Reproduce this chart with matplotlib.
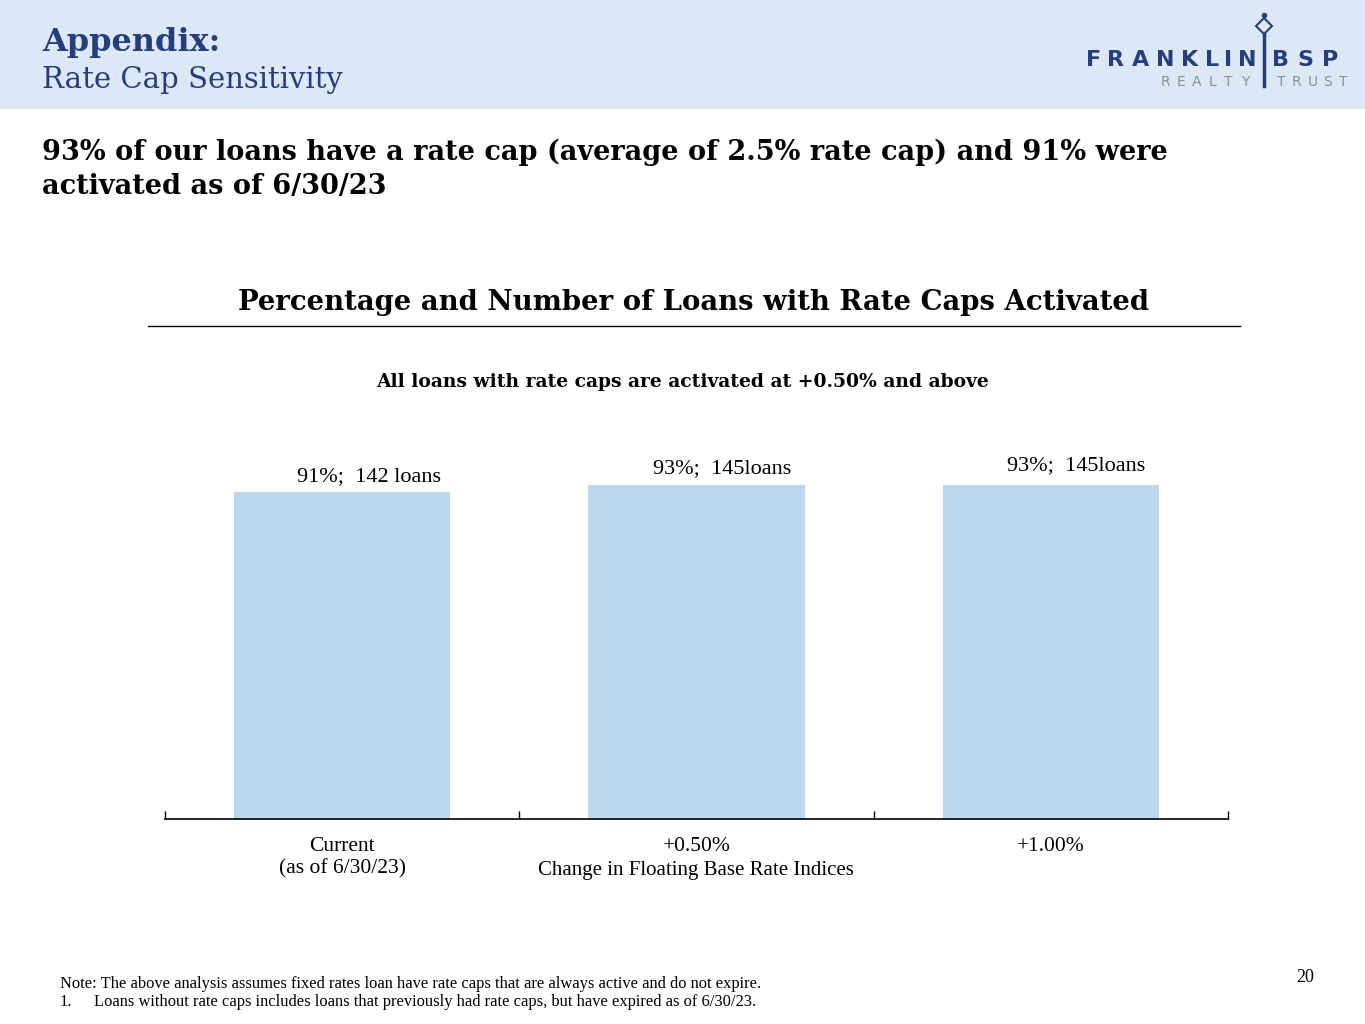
import numpy as np
import matplotlib
matplotlib.use('Agg')
import matplotlib.pyplot as plt
from matplotlib.patches import Rectangle
from matplotlib.textpath import TextPath
from matplotlib.font_manager import FontProperties

# data
categories = ['Current\n(as of 6/30/23)', '+0.50%', '+1.00%']
pct_activated = [91, 93, 93]
bar_labels = ['91%;  142 loans', '93%;  145loans', '93%;  145loans']

NAVY = '#263F7A'
GREY = '#8A8F99'
BAR = '#BDD7EE'
BAND = '#DCE8F5'
SERIF = 'DejaVu Serif'
BODY = 'Liberation Serif'

fig = plt.figure(figsize=(13.65, 10.24), dpi=100)
W, H = 1365, 1024


def px(x, y):
    return x / W, 1 - y / H


def spaced(word, x0, x1, y, color, size, weight='normal'):
    # logo tracking: spread glyphs so the word spans x0..x1 pixels
    fp = FontProperties(family='DejaVu Sans', weight=weight, size=size)
    widths = [TextPath((0, 0), ch, prop=fp).get_extents().width * 100 / 72 if ch.strip()
              else size * 0.3 for ch in word]
    widths = [w + size * 0.12 for w in widths]
    track = (x1 - x0 - sum(widths)) / (len(word) - 1)
    xx = x0
    for ch, w in zip(word, widths):
        fig.text(*px(xx + w / 2, y), ch, ha='center', va='center', color=color,
                 fontsize=size, fontweight=weight, family='DejaVu Sans')
        xx += w + track


# header band
fig.patches.append(Rectangle((0, 1 - 109 / H), 1, 109 / H, transform=fig.transFigure,
                             facecolor=BAND, edgecolor='none', zorder=0))
fig.text(*px(42, 43), 'Appendix:', color=NAVY, fontsize=23, fontweight='bold',
         family=SERIF, va='center', ha='left')
fig.text(*px(42, 80), 'Rate Cap Sensitivity', color=NAVY, fontsize=21,
         family=SERIF, va='center', ha='left')

# logo
spaced('FRANKLIN', 1087, 1255, 60, NAVY, 16, 'bold')
spaced('BSP', 1273, 1338, 60, NAVY, 16, 'bold')
spaced('REALTY', 1161, 1250, 82, GREY, 10)
spaced('TRUST', 1276, 1348, 82, GREY, 10)
fig.add_artist(plt.Line2D([1264 / W, 1264 / W], [1 - 34 / H, 1 - 86 / H],
                          transform=fig.transFigure, color=NAVY, lw=2.5))
fig.add_artist(plt.Line2D([1264 / W], [1 - 26 / H], transform=fig.transFigure,
                          marker='D', ms=8, color=NAVY, mfc='none', mew=1.5))
fig.add_artist(plt.Line2D([1264 / W], [1 - 15 / H], transform=fig.transFigure,
                          marker='o', ms=3, color=NAVY))

# headline
fig.text(*px(42, 152), '93% of our loans have a rate cap (average of 2.5% rate cap) and 91% were',
         fontsize=19.5, fontweight='bold', family=SERIF, va='center', ha='left')
fig.text(*px(42, 187), 'activated as of 6/30/23',
         fontsize=19.5, fontweight='bold', family=SERIF, va='center', ha='left')

# chart title + rule
fig.text(*px(694, 302), 'Percentage and Number of Loans with Rate Caps Activated',
         fontsize=19.8, fontweight='bold', family=SERIF, va='center', ha='center')
fig.add_artist(plt.Line2D([148 / W, 1240 / W], [1 - 326 / H] * 2,
                          transform=fig.transFigure, color='black', lw=1))
fig.text(*px(682, 382), 'All loans with rate caps are activated at +0.50% and above',
         fontsize=13.5, fontweight='bold', family=SERIF, va='center', ha='center')

# bars
ax = fig.add_axes([165 / W, 1 - 819 / H, (1228 - 165) / W, 359 / H])
x = np.arange(len(categories))
bars = ax.bar(x, pct_activated, width=0.61, color=BAR, zorder=2)
offsets = [(27, 6), (26, 7), (25, 10)]
for b, lab, off in zip(bars, bar_labels, offsets):
    ax.annotate(lab, (b.get_x() + b.get_width() / 2, b.get_height()),
                xytext=off, textcoords='offset pixels', ha='center', va='bottom',
                fontsize=16, family=BODY)
ax.set_xlim(-0.5, 2.5)
ax.set_ylim(0, 100)
for s in ['top', 'right', 'left']:
    ax.spines[s].set_visible(False)
ax.spines['bottom'].set_linewidth(1.2)
ax.set_yticks([])
ax.set_xticks(x)
ax.set_xticklabels(categories, fontsize=15.5, family=BODY, linespacing=1.2)
ax.tick_params(axis='x', which='major', length=0, pad=13)
ax.set_xticks([-0.5, 0.5, 1.5, 2.5], minor=True)
ax.tick_params(axis='x', which='minor', direction='in', length=6, width=1)
fig.text(*px(696, 871), 'Change in Floating Base Rate Indices', fontsize=15,
         family=BODY, va='center', ha='center')

# footnotes
fig.text(*px(60, 984), 'Note: The above analysis assumes fixed rates loan have rate caps '
         'that are always active and do not expire.', fontsize=11.9, family=BODY,
         va='center', ha='left')
fig.text(*px(60, 1002), '1.', fontsize=11.9, family=BODY, va='center', ha='left')
fig.text(*px(94, 1002), 'Loans without rate caps includes loans that previously had rate '
         'caps, but have expired as of 6/30/23.', fontsize=11.9, family=BODY,
         va='center', ha='left')
fig.text(*px(1305, 978), '20', fontsize=13, family=BODY, va='center', ha='center')

fig.savefig('out.png', dpi=100)
